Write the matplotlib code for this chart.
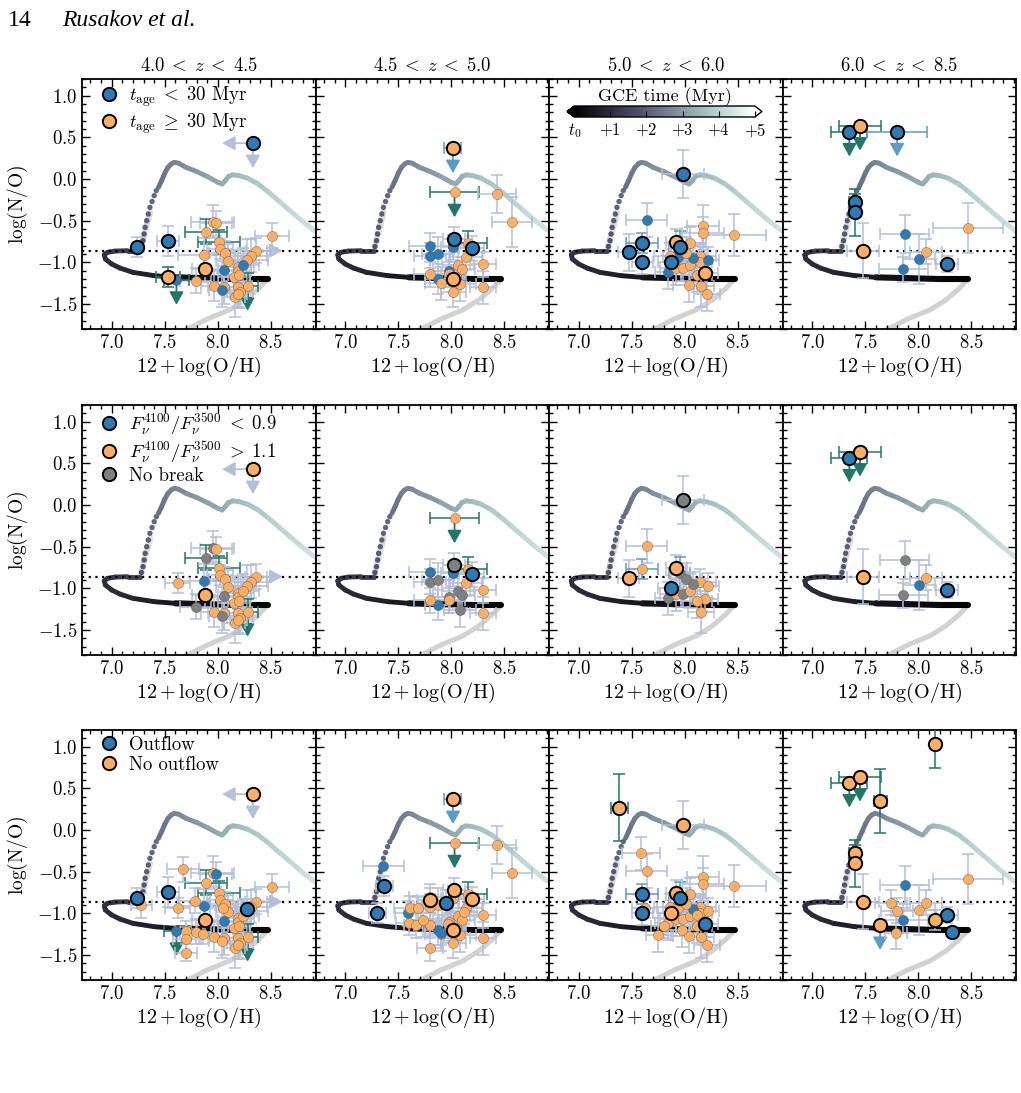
import numpy as np
import matplotlib
matplotlib.use("Agg")
import matplotlib.pyplot as plt
from matplotlib.collections import LineCollection
from matplotlib.colors import Normalize
from matplotlib.lines import Line2D
from matplotlib.ticker import MultipleLocator
import matplotlib.cm as cm

plt.rcParams.update({
    'font.family': 'serif', 'font.serif': ['cmr10', 'DejaVu Serif'],
    'mathtext.fontset': 'cm', 'axes.formatter.use_mathtext': True,
    'axes.unicode_minus': True,
})

# ---------------- data ----------------
col_titles = [r'$4.0\;<\;z\;<\;4.5$', r'$4.5\;<\;z\;<\;5.0$', r'$5.0\;<\;z\;<\;6.0$', r'$6.0\;<\;z\;<\;8.5$']
xticks = [7.0, 7.5, 8.0, 8.5]
yticks = [-1.5, -1.0, -0.5, 0.0, 0.5, 1.0]
no_ref = -0.86  # dotted reference level

# GCE track (model)
track_oh = [8.47, 8.20, 7.90, 7.60, 7.40, 7.20, 7.08, 7.00, 6.94, 6.93, 6.96, 7.03, 7.15, 7.27]
track_no = [-1.20, -1.20, -1.19, -1.18, -1.16, -1.12, -1.07, -1.02, -0.96, -0.91, -0.88, -0.865, -0.86, -0.86]
track_t = [0.0, 0.15, 0.3, 0.5, 0.65, 0.8, 0.9, 0.95, 1.0, 1.05, 1.1, 1.2, 1.35, 1.5]
dots_oh = [7.28, 7.295, 7.305, 7.315, 7.33, 7.345, 7.36, 7.38, 7.40, 7.42]
dots_no = [-0.81, -0.74, -0.66, -0.58, -0.50, -0.42, -0.34, -0.27, -0.20, -0.14]
dots_t = [1.8, 1.85, 1.9, 1.95, 2.0, 2.05, 2.1, 2.15, 2.2, 2.25]
upper_oh = [7.44, 7.47, 7.50, 7.53, 7.56, 7.59, 7.63, 7.70, 7.80, 7.90, 8.00, 8.04, 8.07, 8.10,
            8.14, 8.20, 8.28, 8.38, 8.48, 8.58, 8.68, 8.78, 8.88, 8.98]
upper_no = [-0.10, -0.02, 0.07, 0.14, 0.18, 0.20, 0.19, 0.14, 0.09, 0.03, -0.04, -0.06, -0.02, 0.03,
            0.05, 0.04, 0.01, -0.06, -0.16, -0.27, -0.38, -0.49, -0.59, -0.69]
upper_t = [2.3, 2.35, 2.42, 2.5, 2.55, 2.6, 2.68, 2.8, 2.95, 3.1, 3.22, 3.27, 3.32, 3.37,
           3.45, 3.55, 3.65, 3.78, 3.9, 4.0, 4.1, 4.2, 4.28, 4.35]
grey_oh = [7.65, 7.73, 7.90, 8.11, 8.26, 8.38, 8.47]
grey_no = [-1.84, -1.79, -1.68, -1.57, -1.45, -1.32, -1.20]
halo_oh = [7.27, 7.30, 7.33, 7.36]
halo_no = [-0.86, -0.70, -0.55, -0.40]

# class codes: upper case = large (black-edged) symbol, '.' = not shown
# age: y/o ; break: b (<0.9), r (>1.1), n (no break) ; outflow: y/n
# lim: u = upper limit N/O, U = upper limits N/O and O/H, r = lower limit O/H
# src: a / t / k  (error-bar family)
c1_oh = [8.33, 7.24, 7.53, 7.53, 7.88, 8.27, 7.95, 7.98, 7.89, 8.01, 8.02, 7.87, 8.07, 8.10, 8.51,
         8.36, 8.31, 8.27, 8.19, 8.19, 8.15, 8.20, 7.79, 7.96, 8.06, 8.19, 8.28, 8.21, 8.16, 8.19,
         7.61, 8.06, 8.04, 8.24, 7.62, 7.67, 7.28, 7.78, 7.70, 7.70, 7.70, 7.86, 8.05]
c1_no = [0.43, -0.82, -0.74, -1.18, -1.08, -0.95, -0.51, -0.53, -0.63, -0.76, -0.84, -0.91, -0.89,
         -0.98, -0.68, -0.86, -0.92, -0.97, -1.05, -1.10, -1.17, -1.15, -1.22, -1.28, -1.30, -1.30,
         -1.28, -1.35, -1.41, -1.38, -1.21, -1.09, -1.33, -1.03, -0.94, -0.47, -0.90, -0.85, -1.21,
         -1.31, -1.47, -1.25, -0.94]
c1_ohe = [0, 0, 0.10, 0.11, 0.12, 0.10, 0.20, 0.15, 0.20, 0.20, 0.12, 0.25, 0.15, 0.12, 0.16, 0.10,
          0.15, 0.20, 0.15, 0.12, 0.15, 0.10, 0.15, 0.12, 0.15, 0.10, 0.10, 0.12, 0.10, 0.08, 0.12,
          0.15, 0.12, 0.15, 0.12, 0.15, 0.10, 0.15, 0.10, 0.12, 0.10, 0.10, 0.12]
c1_noe = [0, 0.12, 0.18, 0.12, 0.15, 0.12, 0.20, 0.15, 0.15, 0.15, 0.12, 0.20, 0.15, 0.20, 0.15, 0.15,
          0.20, 0.25, 0.20, 0.18, 0.20, 0.15, 0.15, 0.18, 0.20, 0.25, 0.15, 0.20, 0.25, 0.15, 0,
          0.18, 0.20, 0.20, 0.12, 0.15, 0.15, 0.15, 0.12, 0.15, 0.10, 0.12, 0.15]
c1_age = "YYYOO." "oooooooooooo" "oooooooooooo" "yyyy" "........."
c1_brk = "R...R." "nrnrrbrr.rrr" "rrrrnrrrrrrr" ".nnr" "r........"
c1_out = "NYY.NY" "nynnnynnnnnn" "nnnnnnnnnnnn" "yynn" "nnnnnnnnn"
c1_lim = "U....." ".........r.." "........u..." "u..." "........."
c1_src = "aaataa" "aattaaaaaaaa" "aaaaaaaataaa" "taaa" "aaaaaaaaa"

c2_oh = [8.015, 8.025, 8.19, 8.015, 7.37, 7.30, 7.80, 7.95, 8.03, 8.43, 8.57, 7.80, 7.80, 7.87,
         8.02, 7.98, 7.87, 7.80, 7.90, 8.02, 8.16, 8.14, 8.30, 8.06, 8.10, 7.98, 8.08, 8.30, 8.04,
         7.36, 7.59, 7.90, 7.61, 7.69, 7.60, 7.67, 7.73, 7.80, 7.97, 8.12]
c2_no = [0.37, -0.72, -0.83, -1.20, -0.67, -1.00, -0.84, -0.87, -0.16, -0.18, -0.52, -0.80, -0.92,
         -0.90, -0.82, -1.10, -1.20, -1.14, -1.25, -1.36, -0.77, -0.94, -1.02, -1.03, -1.08, -1.14,
         -1.26, -1.30, -1.18, -0.43, -1.00, -1.23, -0.94, -0.94, -1.11, -1.14, -1.08, -1.42, -1.13,
         -0.98]
c2_ohe = [0.08, 0.10, 0.12, 0.10, 0.08, 0.08, 0.12, 0.12, 0.23, 0.18, 0.19, 0.20, 0.15, 0.15, 0.12,
          0.15, 0.12, 0.15, 0.15, 0.12, 0.18, 0.15, 0.12, 0.15, 0.12, 0.15, 0.15, 0.12, 0.10, 0.19,
          0.12, 0.10, 0.15, 0.12, 0.12, 0.12, 0.15, 0.12, 0.15, 0.12]
c2_noe = [0, 0.15, 0.15, 0.15, 0.12, 0.12, 0.15, 0.15, 0, 0.23, 0.30, 0.15, 0.15, 0.20, 0.15, 0.20,
          0.18, 0.15, 0.20, 0.18, 0.15, 0.15, 0.15, 0.20, 0.15, 0.15, 0.20, 0.20, 0.15, 0, 0.15,
          0.15, 0.15, 0.15, 0.15, 0.15, 0.20, 0.15, 0.20, 0.15]
c2_age = "OYYO...." "ooo" "yyyyyy" "oooooooooooo" "..........."
c2_brk = ".NB....." "r.." "bnnbnb" "r..rrrnnrnr." "..........."
c2_out = "NNNNYYNY" "nnn" "nnnnny" "nnnnnnnnnnnn" "yyy" "nnnnnnnn"
c2_lim = "u......." "u.." "......" "............" "..........."
c2_src = "kaaaaaaa" "taa" "aaaaaa" "aaataaaaaaaa" "aaaaaaaaaaa"

c3_oh = [7.98, 7.47, 7.60, 7.60, 7.87, 7.92, 7.95, 8.19, 7.38, 7.64, 7.59, 8.17, 8.17, 8.46, 8.05,
         7.84, 7.92, 7.98, 8.05, 8.14, 8.14, 8.22, 8.08, 8.11, 8.04, 8.15, 8.21, 7.94, 8.01, 7.75,
         7.86, 7.80, 7.97, 8.11, 7.62]
c3_no = [0.06, -0.88, -0.77, -0.99, -0.99, -0.75, -0.82, -1.13, 0.27, -0.49, -0.28, -0.56, -0.65,
         -0.67, -0.77, -1.12, -1.07, -1.07, -1.03, -0.92, -0.99, -0.97, -0.95, -1.15, -1.27, -1.28,
         -1.38, -0.93, -0.89, -1.26, -0.92, -1.15, -1.20, -1.02, -0.93]
c3_ohe = [0.20, 0.10, 0.15, 0.10, 0.12, 0.10, 0.10, 0.12, 0.08, 0.19, 0.18, 0.15, 0.20, 0.30, 0.15,
          0.12, 0.15, 0.12, 0.15, 0.15, 0.12, 0.10, 0.12, 0.15, 0.15, 0.12, 0.12, 0.15, 0.15, 0.12,
          0.15, 0.12, 0.15, 0.10, 0.12]
c3_noe = [0.29, 0.22, 0.12, 0.15, 0.15, 0.15, 0.20, 0.15, 0.40, 0.20, 0.20, 0.25, 0.20, 0.25, 0.20,
          0.20, 0.20, 0.15, 0.20, 0.15, 0.20, 0.15, 0.15, 0.20, 0.20, 0.25, 0.20, 0.15, 0.20, 0.20,
          0.15, 0.15, 0.20, 0.15, 0.12]
c3_age = "YYYYYOYO." "y.oooo" "yoooooyy" "oooo" "yo" "." "o" "...."
c3_brk = "NRr.BRnr." "r....." "nrnrr.rn" "r.r." ".n" "." "." "...."
c3_out = "N.YYNNYYN" "nnnnnn" "nnnnnnny" "nnnn" "nn" "n" "n" "nnnn"
c3_lim = "........." "......" "........" "...." ".." "." "." "...."
c3_src = "aakaaakat" "aaaaaa" "aaaaaaaa" "aaaa" "aa" "a" "a" "aaaa"

c4_oh = [7.35, 7.45, 7.80, 7.40, 7.40, 7.48, 8.27, 8.16, 7.64, 7.64, 8.16, 8.32, 7.87, 8.07, 8.01,
         7.86, 8.47, 7.74, 7.80, 7.79]
c4_no = [0.57, 0.64, 0.57, -0.28, -0.40, -0.86, -1.02, 1.03, 0.35, -1.14, -1.08, -1.22, -0.66,
         -0.87, -0.96, -1.08, -0.59, -0.87, -0.97, -1.23]
c4_ohe = [0.17, 0.20, 0.28, 0.05, 0.05, 0.15, 0.10, 0.0, 0.06, 0.0, 0.0, 0.0, 0.23, 0.15, 0.15,
          0.23, 0.33, 0.15, 0.15, 0.10]
c4_noe = [0, 0, 0, 0.10, 0.28, 0.33, 0.10, 0.28, 0.38, 0, 0.12, 0, 0.23, 0.15, 0.30, 0.15, 0.30,
          0.15, 0.15, 0.20]
c4_age = "YOYYYOY....." "yoyyo..."
c4_brk = "BR...RB....." "nrbn...."
c4_out = "NN.NNNYNNNNY" "ynnynnnn"
c4_lim = "uuu......u.." "........"
c4_src = "ttkttaattkaa" "aaaaaaaa"

legend_labels = [
    [r'$t_{\rm age}\;<\;30$ Myr', r'$t_{\rm age}\;\geq\;30$ Myr'],
    [r'$F_{\nu}^{4100}/F_{\nu}^{3500}\;<\;0.9$', r'$F_{\nu}^{4100}/F_{\nu}^{3500}\;>\;1.1$', 'No break'],
    ['Outflow', 'No outflow'],
]
cbar_ticklabels = [r'$t_0$', r'$+1$', r'$+2$', r'$+3$', r'$+4$', r'$+5$']

# ---------------- style ----------------
BLUE, ORANGE, GREY = '#2c7bb6', '#fdae61', '#808080'
row_colors = [{'y': BLUE, 'o': ORANGE}, {'b': BLUE, 'r': ORANGE, 'n': GREY}, {'y': BLUE, 'n': ORANGE}]
legend_colors = [[BLUE, ORANGE], [BLUE, ORANGE, GREY], [BLUE, ORANGE]]
SRC = {'a': '#b3bfdb', 't': '#1f7868', 'k': '#5b9bc8'}
cmap = plt.get_cmap('bone')
norm = Normalize(0, 5)

cols = [
    (c1_oh, c1_no, c1_ohe, c1_noe, (c1_age, c1_brk, c1_out), c1_lim, c1_src),
    (c2_oh, c2_no, c2_ohe, c2_noe, (c2_age, c2_brk, c2_out), c2_lim, c2_src),
    (c3_oh, c3_no, c3_ohe, c3_noe, (c3_age, c3_brk, c3_out), c3_lim, c3_src),
    (c4_oh, c4_no, c4_ohe, c4_noe, (c4_age, c4_brk, c4_out), c4_lim, c4_src),
]

W, H = 1021, 1093
fig = plt.figure(figsize=(W / 100, H / 100), dpi=100)
col_left = [82, 315.5, 549, 782.5]
row_top = [79, 405, 730]
aw, ah = 233.5, 250


def lc_from(xs, ys, ts, widths):
    pts = np.column_stack([xs, ys])
    segs = np.stack([pts[:-1], pts[1:]], axis=1)
    tt = np.asarray(ts)
    tm = 0.5 * (tt[:-1] + tt[1:])
    lc = LineCollection(segs, cmap=cmap, norm=norm, linewidths=widths, zorder=2)
    lc.set_array(tm)
    lc.set_capstyle('round')
    lc.set_joinstyle('round')
    return lc


def draw_track(ax):
    ax.plot(grey_oh, grey_no, color='#d2d2d2', lw=3.6, solid_capstyle='round', zorder=1)
    ax.plot(halo_oh, halo_no, color='#dcdcdc', lw=4.5, solid_capstyle='round', zorder=1.5)
    tm = 0.5 * (np.asarray(track_t[:-1]) + np.asarray(track_t[1:]))
    widths = [4.4 if t < 0.45 else 3.5 for t in tm]
    ax.add_collection(lc_from(track_oh, track_no, track_t, widths))
    ax.scatter(dots_oh, dots_no, c=dots_t, cmap=cmap, norm=norm, s=15, lw=0, zorder=2.2)
    ax.add_collection(lc_from(upper_oh, upper_no, upper_t, 3.5))


def arrow(ax, x, y, dx, dy, color):
    ax.annotate('', xy=(x + dx, y + dy), xytext=(x, y),
                arrowprops=dict(arrowstyle='-|>,head_length=0.6,head_width=0.33', color=color,
                                lw=1.3, shrinkA=0, shrinkB=0, mutation_scale=13),
                zorder=3, annotation_clip=False)


def draw_points(ax, oh, no, ohe, noe, cls, lim, src, cmapping):
    for i in range(len(oh)):
        c = cls[i]
        if c == '.':
            continue
        ec = SRC[src[i]]
        big = c.isupper()
        col = cmapping[c.lower()]
        xe = ohe[i] if ohe[i] > 0 else None
        ye = noe[i] if noe[i] > 0 else None
        if xe is not None or ye is not None:
            ax.errorbar(oh[i], no[i], xerr=xe, yerr=ye, fmt='none', ecolor=ec, elinewidth=1.1,
                        capsize=4, capthick=1.1, zorder=3)
        if lim[i] in 'uU':
            arrow(ax, oh[i], no[i], 0, -0.30, ec)
        if lim[i] == 'U':
            arrow(ax, oh[i], no[i], -0.29, 0, ec)
        if lim[i] == 'r':
            arrow(ax, oh[i], no[i], 0.25, 0, ec)
        if big:
            ax.plot(oh[i], no[i], 'o', ms=9.6, mfc=col, mec='black', mew=1.4, zorder=6)
        else:
            ax.plot(oh[i], no[i], 'o', ms=7.3, mfc=col, mec=(0.35, 0.35, 0.35, 0.6), mew=0.5, zorder=4)


for r in range(3):
    for ci in range(4):
        ax = fig.add_axes([col_left[ci] / W, 1 - (row_top[r] + ah) / H, aw / W, ah / H])
        ax.set_xlim(6.72, 8.92)
        ax.set_ylim(-1.8, 1.2)
        draw_track(ax)
        ax.axhline(no_ref, color='black', ls=(0, (1, 2.0)), lw=1.6, zorder=2.6)
        oh, no, ohe, noe, classes, lim, src = cols[ci]
        draw_points(ax, oh, no, ohe, noe, classes[r], lim, src, row_colors[r])
        ax.set_xticks(xticks)
        ax.set_yticks(yticks)
        ax.xaxis.set_minor_locator(MultipleLocator(0.1))
        ax.yaxis.set_minor_locator(MultipleLocator(0.1))
        ax.tick_params(which='both', direction='in', top=True, right=True, labelsize=13.5, width=1.0)
        ax.tick_params(which='major', length=5.5)
        ax.tick_params(which='minor', length=3)
        for s in ax.spines.values():
            s.set_linewidth(1.3)
        ax.set_xlabel(r'$12 + \log({\rm O/H})$', fontsize=14.5, labelpad=2)
        if ci == 0:
            ax.set_ylabel(r'$\log({\rm N/O})$', fontsize=14, labelpad=5)
            handles = [Line2D([], [], marker='o', ls='none', ms=9.6, mfc=lc_, mec='black', mew=1.4)
                       for lc_ in legend_colors[r]]
            ax.legend(handles, legend_labels[r], loc='upper left', bbox_to_anchor=(0.035, 1.0),
                      frameon=False, fontsize=13.5, handletextpad=0.35, labelspacing=0.12,
                      borderaxespad=0.15, handlelength=1.4, borderpad=0.15)
        else:
            ax.tick_params(labelleft=False)
        if r == 0:
            ax.set_title(col_titles[ci], fontsize=13.5, pad=6)

# colour bar
cax = fig.add_axes([567 / W, 1 - 117 / H, 195 / W, 11 / H])
sm = cm.ScalarMappable(cmap=cmap, norm=norm)
cb = fig.colorbar(sm, cax=cax, orientation='horizontal', extend='both', extendfrac=0.04,
                  ticks=[0, 1, 2, 3, 4, 5])
cb.ax.set_xticklabels(cbar_ticklabels)
cb.ax.tick_params(direction='in', length=4, width=0.8, labelsize=12, pad=3)
cb.outline.set_linewidth(1.0)
cax.set_title('GCE time (Myr)', fontsize=13, pad=3)

# page header
fig.text(8 / W, 1 - 20 / H, '14', fontfamily='Liberation Serif', fontsize=17, va='center')
fig.text(62 / W, 1 - 20 / H, 'Rusakov et al.', fontfamily='Liberation Serif', style='italic',
         fontsize=17, va='center')

fig.savefig('out.png', dpi=100)
